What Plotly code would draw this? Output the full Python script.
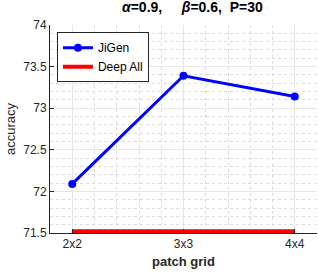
import plotly.graph_objects as go

categories = ["2x2", "3x3", "4x4"]
cat_pos = [1, 2, 3]
jigen = [72.09, 73.39, 73.14]
deep_all = [71.52, 71.52, 71.52]
y_ticks = [71.5, 72, 72.5, 73, 73.5, 74]
y_ticktext = ["71.5", "72", "72.5", "73", "73.5", "74"]

fig = go.Figure()
fig.add_trace(go.Scatter(x=cat_pos, y=jigen, mode="lines+markers", name="JiGen",
                         line=dict(color="#0000ff", width=3),
                         marker=dict(size=8, color="#0000ff")))
fig.add_trace(go.Scatter(x=cat_pos, y=deep_all, mode="lines", name="Deep All",
                         line=dict(color="#ff0000", width=4)))

font = "Liberation Sans, Arial, sans-serif"
fig.update_layout(
    width=318, height=273,
    margin=dict(l=50, r=1, t=25, b=40),
    paper_bgcolor="white", plot_bgcolor="white",
    font=dict(family=font, size=12, color="#262626"),
    showlegend=True,
    legend=dict(x=0.026, y=0.965, xanchor="left", yanchor="top",
                bgcolor="white", bordercolor="#262626", borderwidth=1,
                font=dict(size=12, color="#000000"),
                itemwidth=30, tracegroupgap=0),
    annotations=[dict(text="<b><i>α</i>=0.9,     <i>β</i>=0.6,  P=30</b>",
                      xref="paper", yref="paper", x=(192-50)/267, y=1.0,
                      yshift=8, xanchor="center", yanchor="bottom",
                      showarrow=False, font=dict(size=14, color="#000000", family=font)),
                 ],
)
fig.update_xaxes(range=[0.8, 3.2], tickmode="array", tickvals=cat_pos, ticktext=categories,
                 showline=True, linecolor="#262626", linewidth=1, mirror=False,
                 ticks="inside", ticklen=4, tickcolor="#262626",
                 showgrid=True, gridcolor="#e6e6e6", gridwidth=1, zeroline=False,
                 title=dict(text="<b>patch grid</b>", font=dict(size=13, color="#262626"), standoff=6),
                 minor=dict(tickmode="linear", tick0=0.8, dtick=0.2, showgrid=True,
                            gridcolor="#dcdcdc", griddash="dot", gridwidth=1, ticks=""))
fig.update_yaxes(range=[71.5, 74], tickmode="array", tickvals=y_ticks, ticktext=y_ticktext,
                 showline=True, linecolor="#262626", linewidth=1, mirror=False,
                 ticks="inside", ticklen=4, tickcolor="#262626",
                 showgrid=True, gridcolor="#e6e6e6", gridwidth=1, zeroline=False,
                 title=dict(text="accuracy", font=dict(size=13, color="#262626"), standoff=4),
                 minor=dict(tickmode="linear", tick0=71.5, dtick=0.1, showgrid=True,
                            gridcolor="#dcdcdc", griddash="dot", gridwidth=1, ticks=""))

fig.write_html("out.html", config={"displayModeBar": False},
               post_script="document.body.style.margin='0';document.body.style.overflow='hidden';")
